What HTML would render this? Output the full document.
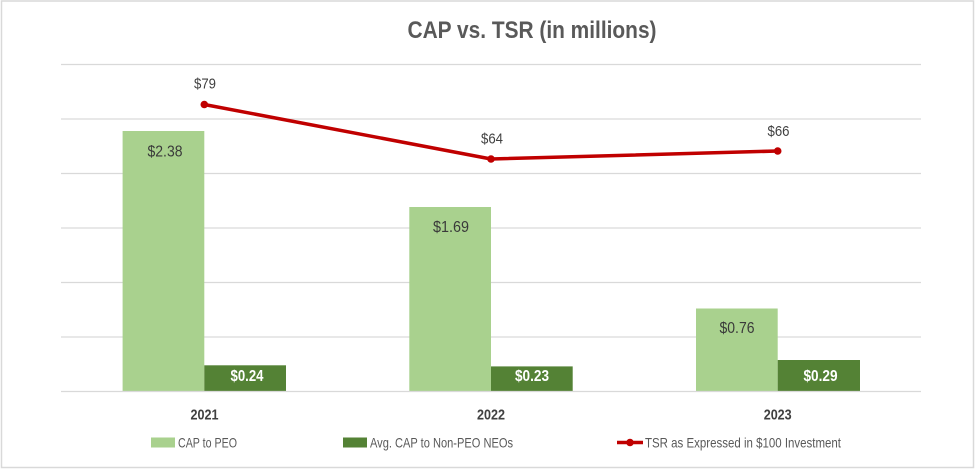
<!DOCTYPE html>
<html><head><meta charset="utf-8"><style>
html,body{margin:0;padding:0;background:#fff;}
svg{display:block;}
text{font-family:"Liberation Sans",sans-serif;}
</style></head><body>
<svg width="975" height="469" viewBox="0 0 975 469" xmlns="http://www.w3.org/2000/svg">
<rect x="0" y="0" width="975" height="469" fill="#fff"/>
<rect x="1.5" y="1" width="972" height="466.5" fill="none" stroke="#d9d9d9" stroke-width="1.5"/>
<text x="532" y="38" text-anchor="middle" font-size="24" font-weight="bold" fill="#595959" textLength="249" lengthAdjust="spacingAndGlyphs">CAP vs. TSR (in millions)</text>
<g stroke="#d9d9d9" stroke-width="1.3">
<line x1="61" y1="64.5" x2="921" y2="64.5"/>
<line x1="61" y1="119" x2="921" y2="119"/>
<line x1="61" y1="173.5" x2="921" y2="173.5"/>
<line x1="61" y1="228" x2="921" y2="228"/>
<line x1="61" y1="282.5" x2="921" y2="282.5"/>
<line x1="61" y1="337" x2="921" y2="337"/>
</g>
<!-- bars -->
<rect x="122.6" y="131" width="81.7" height="260.5" fill="#a9d18e"/>
<rect x="204.3" y="365.3" width="81.7" height="26.2" fill="#548235"/>
<rect x="409.3" y="207" width="81.7" height="184.5" fill="#a9d18e"/>
<rect x="491" y="366.4" width="81.7" height="25.1" fill="#548235"/>
<rect x="696" y="308.5" width="81.7" height="83" fill="#a9d18e"/>
<rect x="777.7" y="360" width="82.3" height="31.5" fill="#548235"/>
<line x1="61" y1="391.5" x2="921" y2="391.5" stroke="#d9d9d9" stroke-width="1.3"/>
<!-- bar labels -->
<g font-size="16" fill="#3a3a3a" text-anchor="middle">
<text x="165" y="156.5" textLength="35" lengthAdjust="spacingAndGlyphs">$2.38</text>
<text x="451" y="232" textLength="36" lengthAdjust="spacingAndGlyphs">$1.69</text>
<text x="737" y="333" textLength="35" lengthAdjust="spacingAndGlyphs">$0.76</text>
</g>
<g font-size="16" font-weight="bold" fill="#fff" text-anchor="middle">
<text x="247" y="381" textLength="33" lengthAdjust="spacingAndGlyphs">$0.24</text>
<text x="532" y="381" textLength="34" lengthAdjust="spacingAndGlyphs">$0.23</text>
<text x="820.5" y="381" textLength="34" lengthAdjust="spacingAndGlyphs">$0.29</text>
</g>
<!-- TSR line -->
<polyline points="204.3,104.5 491,159 777.7,151" fill="none" stroke="#c00000" stroke-width="3.5" stroke-linejoin="round"/>
<g fill="#c00000">
<circle cx="204.3" cy="104.5" r="3.8"/>
<circle cx="491" cy="159" r="3.8"/>
<circle cx="777.7" cy="151" r="3.8"/>
</g>
<g font-size="15" fill="#404040" text-anchor="middle">
<text x="205" y="88.5" textLength="22" lengthAdjust="spacingAndGlyphs">$79</text>
<text x="492" y="143.5" textLength="22" lengthAdjust="spacingAndGlyphs">$64</text>
<text x="778.5" y="136" textLength="22" lengthAdjust="spacingAndGlyphs">$66</text>
</g>
<!-- category labels -->
<g font-size="15" font-weight="bold" fill="#404040" text-anchor="middle">
<text x="204.5" y="419.5" textLength="28" lengthAdjust="spacingAndGlyphs">2021</text>
<text x="491" y="419.5" textLength="28" lengthAdjust="spacingAndGlyphs">2022</text>
<text x="777.7" y="419.5" textLength="28" lengthAdjust="spacingAndGlyphs">2023</text>
</g>
<!-- legend -->
<rect x="151" y="437.5" width="24" height="10" fill="#a9d18e"/>
<rect x="343" y="437.5" width="24" height="10" fill="#548235"/>
<line x1="617" y1="442.5" x2="643" y2="442.5" stroke="#c00000" stroke-width="3.5"/>
<circle cx="630" cy="442.5" r="3.8" fill="#c00000"/>
<g font-size="14" fill="#595959">
<text x="178" y="447.5" textLength="59" lengthAdjust="spacingAndGlyphs">CAP to PEO</text>
<text x="370" y="447.5" textLength="143" lengthAdjust="spacingAndGlyphs">Avg. CAP to Non-PEO NEOs</text>
<text x="645" y="447.5" textLength="196" lengthAdjust="spacingAndGlyphs">TSR as Expressed in $100 Investment</text>
</g>
</svg>
</body></html>
